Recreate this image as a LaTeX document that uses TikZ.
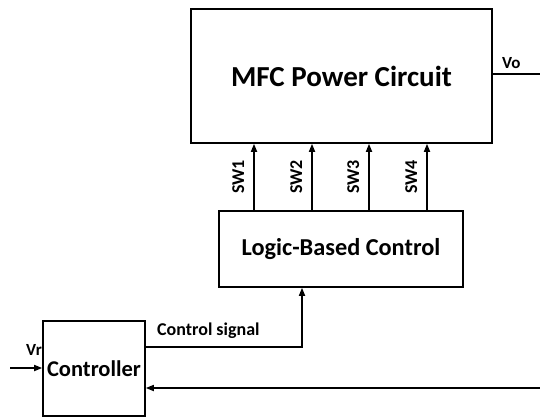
\documentclass[tikz,border=0pt]{standalone}
\usepackage{fontspec}
\setmainfont{Carlito}
\usetikzlibrary{positioning,arrows.meta}

\begin{document}
\begin{tikzpicture}[
        x=1pt, y=-1pt,
        box/.style={draw, line width=1.6pt, align=center, inner sep=0pt, font=\bfseries},
        arr/.style={-{Triangle[length=8pt, width=6pt]}, line width=1.6pt},
        wire/.style={line width=1.6pt},
        lbl/.style={font=\bfseries\fontsize{17}{19}\selectfont, inner sep=0pt}
    ]
    \useasboundingbox (0,0) rectangle (540,419);

    % Bloques
    \node[box, minimum width=301pt, minimum height=134pt, font=\bfseries\fontsize{29}{33}\selectfont] (mfc) at (341.5,76) {MFC Power Circuit};
    \node[box, minimum width=244pt, minimum height=76pt, font=\bfseries\fontsize{24.3}{28}\selectfont] (logic) at (341,249) {Logic-Based Control};
    \node[box, minimum width=102pt, minimum height=95pt, font=\bfseries\fontsize{22.5}{26}\selectfont] (ctrl) at (94,368.5) {Controller};

    % Puntos libres
    \coordinate (vo) at (540,74);
    \coordinate (vr) at (10,368);
    \coordinate (fb) at (540,388);
    \coordinate (cs) at (302,347);

    % Salida
    \draw[wire] (mfc.east |- vo) -- (vo);
    \node[lbl, anchor=base west] (volbl) at (502,69) {Vo};

    % Senales de conmutacion
    \foreach \x/\n in {254/1, 312/2, 369/3, 427/4}
        \draw[arr] (\x,0 |- logic.north) -- (\x,0 |- mfc.south)
            node[lbl, font=\bfseries\fontsize{18}{20}\selectfont, midway, rotate=90, anchor=south, yshift=9pt] {SW\n};

    % Lazo de control
    \draw[arr] (ctrl.east |- cs) -- (cs) -- (cs |- logic.south);
    \node[lbl, font=\bfseries\fontsize{18}{20}\selectfont, anchor=base west] (cslbl) at (157,335) {Control signal};
    \draw[arr] (vr) -- (vr -| ctrl.west);
    \node[lbl, anchor=base west] (vrlbl) at (26,355) {Vr};
    \draw[arr] (fb) -- (fb -| ctrl.east);

\end{tikzpicture}
\end{document}
